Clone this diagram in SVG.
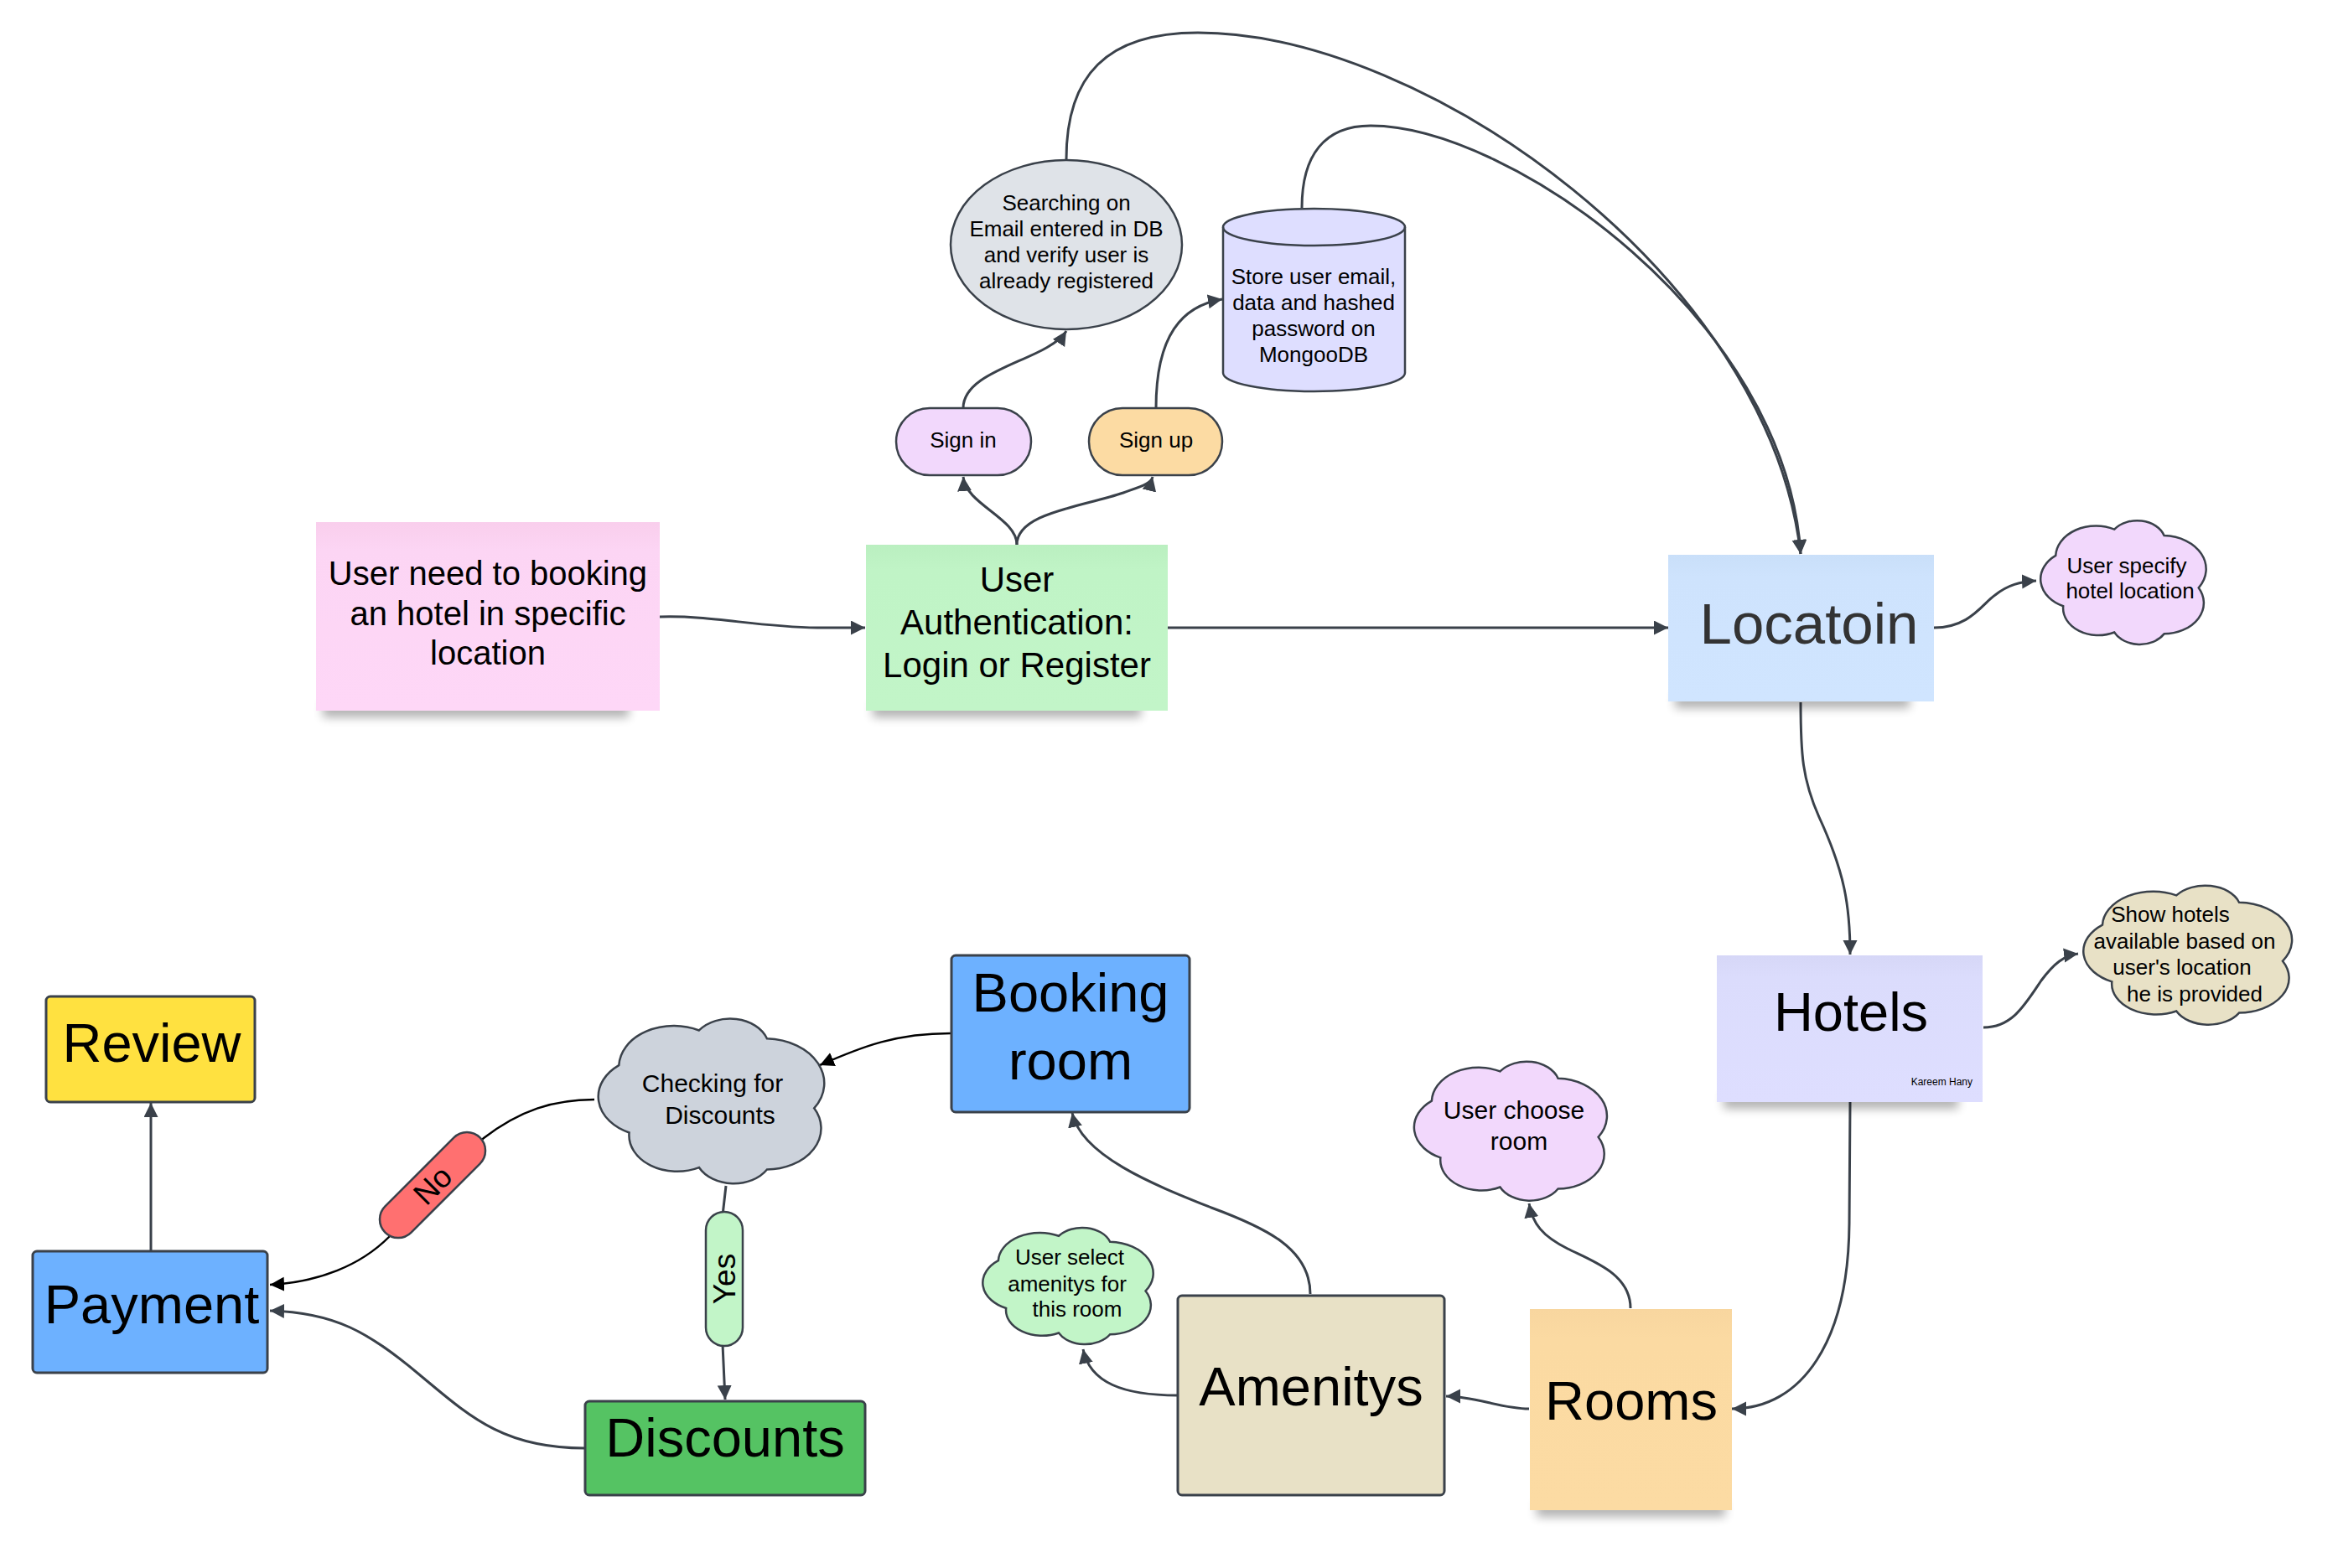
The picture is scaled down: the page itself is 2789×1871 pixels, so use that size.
<svg xmlns="http://www.w3.org/2000/svg" width="2789" height="1871" viewBox="0 0 2789 1871">
<style>
text{font-family:"Liberation Sans",Arial,sans-serif;fill:#000;text-anchor:middle}
.big{font-size:65px}
.sm{font-size:26px}
.md{font-size:30px}
.box{stroke:#3A414A;stroke-width:3}
.cl{stroke:#3A414A;stroke-width:2.5}
.con{fill:none;stroke:#3A414A;stroke-width:3}
.conb{fill:none;stroke:#000;stroke-width:2.5}
.shadow{fill:#000;opacity:0.3;filter:url(#blur)}
</style>
<defs>
<filter id="blur" x="-20%" y="-100%" width="140%" height="300%"><feGaussianBlur stdDeviation="6"/></filter>
<marker id="ad" markerUnits="userSpaceOnUse" markerWidth="18" markerHeight="18" refX="17" refY="8.5" orient="auto" viewBox="0 0 18 18"><path d="M0,0 L17,8.5 L0,17 Z" fill="#3A414A"/></marker>
<marker id="ab" markerUnits="userSpaceOnUse" markerWidth="18" markerHeight="18" refX="17" refY="8.5" orient="auto" viewBox="0 0 18 18"><path d="M0,0 L17,8.5 L0,17 Z" fill="#000"/></marker>
<path id="cloud" vector-effect="non-scaling-stroke" d="M11.1,29.8 A24,24 0 0 1 46.1,9.5 A17,17 0 0 1 75.8,14.3 A26,26 0 0 1 96.4,54.8 A24,24 0 0 1 75.8,90.5 A17,17 0 0 1 46.1,89.3 A21,21 0 0 1 15.6,69 A23,23 0 0 1 11.1,29.8 Z"/>
<linearGradient id="gPink" x1="0" y1="0" x2="0" y2="1"><stop offset="0" stop-color="#F9CEEC"/><stop offset="0.15" stop-color="#FCD5F4"/><stop offset="1" stop-color="#FED7F7"/></linearGradient>
<linearGradient id="gGreen" x1="0" y1="0" x2="0" y2="1"><stop offset="0" stop-color="#BAEFC0"/><stop offset="0.15" stop-color="#C0F4C6"/><stop offset="1" stop-color="#C2F5C8"/></linearGradient>
<linearGradient id="gBlue" x1="0" y1="0" x2="0" y2="1"><stop offset="0" stop-color="#C9DFF9"/><stop offset="0.15" stop-color="#CEE3FD"/><stop offset="1" stop-color="#D0E5FF"/></linearGradient>
<linearGradient id="gLav" x1="0" y1="0" x2="0" y2="1"><stop offset="0" stop-color="#D6D7F7"/><stop offset="0.15" stop-color="#DBDCFC"/><stop offset="1" stop-color="#DEDEFF"/></linearGradient>
<linearGradient id="gPeach" x1="0" y1="0" x2="0" y2="1"><stop offset="0" stop-color="#F8D69F"/><stop offset="0.15" stop-color="#FBDAA2"/><stop offset="1" stop-color="#FCDBA3"/></linearGradient>
</defs>
<rect x="0" y="0" width="2789" height="1871" fill="#fff"/>

<g id="connectors">
<path class="con" marker-end="url(#ad)" d="M787,736 C850,734 900,748 975,749 L1032,749"/>
<path class="con" marker-end="url(#ad)" d="M1393,749 L1990,749"/>
<path class="con" marker-end="url(#ad)" d="M1213,650 C1213,618 1152,602 1149,569"/>
<path class="con" marker-end="url(#ad)" d="M1213,650 C1213,612 1290,605 1340,588 C1362,580 1373,577 1375,569"/>
<path class="con" marker-end="url(#ad)" d="M1149,487 C1149,440 1250,430 1272,395"/>
<path class="con" marker-end="url(#ad)" d="M1379,487 C1379,400 1410,365 1458,357"/>
<path class="con" marker-end="url(#ad)" d="M1272,190 C1272,90 1320,39 1429,39 C1700,39 2110,330 2148,661"/>
<path class="con" marker-end="url(#ad)" d="M1553,248 C1553,185 1580,150 1635,150 C1800,150 2130,380 2148,661"/>
<path class="con" marker-end="url(#ad)" d="M2307,749 C2350,749 2365,720 2380,710 C2395,698 2410,694 2429,693"/>
<path class="con" marker-end="url(#ad)" d="M2148,838 C2148,900 2150,930 2170,975 C2200,1040 2207,1080 2207,1139"/>
<path class="con" marker-end="url(#ad)" d="M2366,1226 C2400,1226 2415,1200 2435,1170 C2450,1150 2462,1140 2479,1138"/>
<path class="con" marker-end="url(#ad)" d="M2207,1315 L2206,1460 C2205,1600 2150,1681 2066,1681"/>
<path class="con" marker-end="url(#ad)" d="M1824,1681 C1790,1681 1760,1666 1725,1666"/>
<path class="con" marker-end="url(#ad)" d="M1945,1561 C1945,1520 1900,1505 1870,1490 C1840,1475 1828,1460 1824,1436"/>
<path class="con" marker-end="url(#ad)" d="M1563,1544 C1563,1490 1510,1465 1445,1441 C1380,1415 1290,1380 1279,1328"/>
<path class="con" marker-end="url(#ad)" d="M1405,1665 C1340,1665 1300,1650 1292,1610"/>
<path class="conb" marker-end="url(#ab)" d="M1134,1233 C1070,1233 1030,1248 978,1271"/>
<path class="conb" marker-end="url(#ab)" d="M709,1312 C660,1312 620,1325 577,1358 L464,1476 C430,1510 380,1530 322,1533"/>
<path class="con" marker-end="url(#ad)" d="M866,1415 L862,1450 M862,1604 L865,1670"/>
<path class="con" marker-end="url(#ad)" d="M697,1728 C600,1728 560,1690 500,1640 C440,1590 400,1566 322,1564"/>
<path class="con" marker-end="url(#ad)" d="M180,1492 L180,1316"/>
</g>

<g id="no-label">
<rect x="436" y="1392" width="160" height="44" rx="22" fill="#FF7070" class="cl" transform="rotate(-45 516 1414)"/>
<text x="516" y="1427" font-size="37" transform="rotate(-45 516 1414)">No</text>
</g>
<g id="yes-label">
<rect x="842" y="1446" width="44" height="160" rx="22" fill="#C2F5C8" class="cl"/>
<text x="864" y="1539" font-size="37" transform="rotate(-90 864 1526)">Yes</text>
</g>

<g id="user-need">
<rect class="shadow" x="385" y="838" width="365" height="18"/>
<rect x="377" y="623" width="410" height="225" fill="url(#gPink)"/>
<text font-size="40"><tspan x="582" y="698">User need to booking</tspan><tspan x="582" y="746">an hotel in specific</tspan><tspan x="582" y="793">location</tspan></text>
</g>

<g id="auth">
<rect class="shadow" x="1041" y="838" width="320" height="18"/>
<rect x="1033" y="650" width="360" height="198" fill="url(#gGreen)"/>
<text font-size="42"><tspan x="1213" y="706">User</tspan><tspan x="1213" y="757">Authentication:</tspan><tspan x="1213" y="808">Login or Register</tspan></text>
</g>

<g id="sign-in">
<rect x="1069" y="487" width="161" height="80" rx="40" fill="#F2D8FC" class="cl"/>
<text class="sm" x="1149" y="534">Sign in</text>
</g>

<g id="sign-up">
<rect x="1299" y="487" width="159" height="80" rx="40" fill="#FCDBA3" class="cl"/>
<text class="sm" x="1379" y="534">Sign up</text>
</g>

<g id="searching">
<ellipse cx="1272" cy="292" rx="138" ry="101" fill="#DFE3E8" class="cl"/>
<text class="sm"><tspan x="1272" y="251">Searching on</tspan><tspan x="1272" y="282">Email entered in DB</tspan><tspan x="1272" y="313">and verify user is</tspan><tspan x="1272" y="344">already registered</tspan></text>
</g>

<g id="store-db">
<path d="M1459,271 A108.5,22 0 0 1 1676,271 L1676,445 A108.5,22 0 0 1 1459,445 Z" fill="#DEDEFF" class="cl"/>
<path d="M1459,271 A108.5,22 0 0 0 1676,271" fill="none" class="cl"/>
<text class="sm"><tspan x="1567" y="339">Store user email,</tspan><tspan x="1567" y="370">data and hashed</tspan><tspan x="1567" y="401">password on</tspan><tspan x="1567" y="432">MongooDB</tspan></text>
</g>

<g id="locatoin">
<rect class="shadow" x="1998" y="827" width="280" height="18"/>
<rect x="1990" y="662" width="317" height="175" fill="url(#gBlue)"/>
<text x="2158" y="768" font-size="69" style="fill:#333">Locatoin</text>
</g>

<g id="user-specify">
<use href="#cloud" transform="translate(2430,617) scale(2.0,1.54)" fill="#F2D8FC" class="cl"/>
<text class="sm"><tspan x="2537" y="684">User specify</tspan><tspan x="2541" y="714">hotel location</tspan></text>
</g>

<g id="hotels">
<rect class="shadow" x="2056" y="1305" width="280" height="18"/>
<rect x="2048" y="1140" width="317" height="175" fill="url(#gLav)"/>
<text class="big" x="2208" y="1230">Hotels</text>
<text x="2353" y="1295" font-size="12" style="text-anchor:end">Kareem Hany</text>
</g>

<g id="show-hotels">
<use href="#cloud" transform="translate(2480,1052) scale(2.52,1.73)" fill="#E8E1C6" class="cl"/>
<text class="sm"><tspan x="2589" y="1100">Show hotels</tspan><tspan x="2606" y="1132">available based on</tspan><tspan x="2603" y="1163">user's location</tspan><tspan x="2618" y="1195">he is provided</tspan></text>
</g>

<g id="rooms">
<rect class="shadow" x="1833" y="1792" width="225" height="18"/>
<rect x="1825" y="1562" width="241" height="240" fill="url(#gPeach)"/>
<text class="big" x="1946" y="1694">Rooms</text>
</g>

<g id="user-choose">
<use href="#cloud" transform="translate(1682,1262) scale(2.33,1.73)" fill="#F2D8FC" class="cl"/>
<text class="md"><tspan x="1806" y="1335">User choose</tspan><tspan x="1812" y="1372">room</tspan></text>
</g>

<g id="amenitys">
<rect x="1405" y="1546" width="318" height="238" rx="5" fill="#E8E1C6" class="box"/>
<text class="big" x="1564" y="1677">Amenitys</text>
</g>

<g id="user-select">
<use href="#cloud" transform="translate(1168,1461) scale(2.06,1.45)" fill="#C2F5C8" class="cl"/>
<text class="sm"><tspan x="1276" y="1509">User select</tspan><tspan x="1273" y="1541">amenitys for</tspan><tspan x="1285" y="1571">this room</tspan></text>
</g>

<g id="booking-room">
<rect x="1135" y="1140" width="284" height="187" rx="5" fill="#6DB1FF" class="box"/>
<text class="big"><tspan x="1277" y="1207">Booking</tspan><tspan x="1277" y="1288">room</tspan></text>
</g>

<g id="checking">
<use href="#cloud" transform="translate(708,1210) scale(2.73,2.05)" fill="#CDD3DC" class="cl"/>
<text class="md"><tspan x="850" y="1303">Checking for</tspan><tspan x="859" y="1341">Discounts</tspan></text>
</g>

<g id="discounts">
<rect x="698" y="1672" width="334" height="112" rx="5" fill="#55C363" class="box"/>
<text class="big" x="865" y="1738">Discounts</text>
</g>

<g id="payment">
<rect x="39" y="1493" width="280" height="145" rx="5" fill="#6DB1FF" class="box"/>
<text class="big" x="181" y="1579">Payment</text>
</g>

<g id="review">
<rect x="55" y="1189" width="249" height="126" rx="5" fill="#FFE140" class="box"/>
<text class="big" x="181" y="1267">Review</text>
</g>
</svg>
